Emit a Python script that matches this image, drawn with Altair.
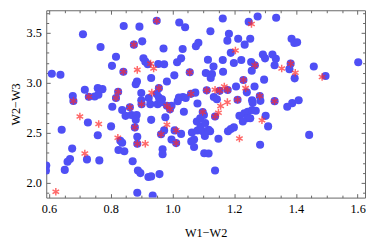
import altair as alt
import pandas as pd

# ---------------- data ----------------
blue_x = [0.842,0.710,0.767,0.817,0.804,0.841,0.609,0.637,0.716,0.758,
          0.773,0.824,0.677,0.679,0.729,0.748,0.760,0.817,0.949,1.022,
          1.041,0.893,0.875,0.902,0.971,1.033,1.076,1.084,1.028,1.015,
          0.906,0.912,0.920,0.954,0.973,1.056,1.108,1.006,0.982,0.931,
          0.885,0.881,0.899,0.956,0.949,0.956,0.923,0.966,1.021,1.034,
          1.043,1.060,1.074,1.111,0.899,1.221,1.163,1.276,1.336,1.247,
          1.123,1.183,1.178,1.213,1.252,1.234,1.189,1.115,1.163,1.199,
          1.223,1.255,1.267,1.293,1.300,1.324,1.335,1.331,1.133,1.164,
          1.257,1.128,1.124,1.297,1.230,1.241,1.266,1.206,1.153,1.179,
          1.134,1.144,1.283,1.211,1.258,1.285,1.331,1.386,1.395,1.404,
          1.383,1.379,1.396,1.458,1.496,1.602,1.388,1.409,1.372,0.805,
          0.837,0.848,0.726,0.801,0.641,0.758,0.831,0.837,0.675,0.825,
          0.844,0.723,0.763,0.668,0.660,0.651,0.591,0.590,0.862,0.900,
          0.928,0.952,0.964,0.982,0.992,0.997,1.017,1.037,1.081,1.098,
          0.867,0.884,0.881,0.878,0.931,0.977,1.079,1.090,1.102,0.973,
          0.963,1.007,1.028,1.063,1.070,1.061,0.997,1.012,1.081,1.091,
          1.098,0.886,0.886,0.968,0.968,1.070,1.103,0.888,0.896,0.922,
          0.931,0.958,0.886,0.936,0.871,1.138,1.106,1.117,1.122,1.149,
          1.180,1.189,1.199,1.260,1.217,1.233,1.244,1.258,1.270,1.242,
          1.228,1.252,1.302,1.310,1.284,1.117,1.138,1.443,1.105]
blue_y = [3.569,3.486,3.359,3.261,3.170,3.111,3.091,3.081,2.931,2.947,
          2.937,2.910,2.869,2.819,2.861,2.863,2.882,2.849,3.621,3.604,
          3.555,3.562,3.382,3.415,3.343,3.339,3.366,3.400,3.245,3.206,
          3.245,3.212,3.186,3.189,3.186,3.106,3.098,3.075,3.013,3.049,
          3.013,2.986,2.898,2.947,2.888,2.853,2.849,2.836,2.853,2.859,
          2.849,2.890,2.902,2.925,2.826,3.765,3.643,3.663,3.650,3.611,
          3.516,3.490,3.422,3.441,3.441,3.382,3.300,3.231,3.228,3.199,
          3.228,3.209,3.176,3.284,3.245,3.284,3.241,3.176,3.163,3.111,
          3.121,3.088,3.049,3.032,3.029,2.905,2.964,2.964,2.920,2.929,
          2.859,2.836,2.869,2.831,2.826,2.820,2.817,3.441,3.398,3.405,
          3.192,3.137,3.045,3.163,3.069,3.206,2.797,2.826,2.761,2.761,
          2.728,2.670,2.604,2.565,2.532,2.476,2.422,2.402,2.343,2.329,
          2.317,2.235,2.225,2.238,2.212,2.130,2.173,2.124,2.755,2.787,
          2.787,2.787,2.807,2.771,2.735,2.771,2.817,2.712,2.794,2.709,
          2.679,2.679,2.630,2.555,2.630,2.657,2.614,2.647,2.679,2.525,
          2.486,2.525,2.490,2.503,2.434,2.415,2.434,2.398,2.523,2.565,
          2.516,2.461,2.392,2.336,2.287,2.359,2.297,2.124,2.098,2.059,
          2.065,2.088,1.902,1.873,2.216,2.663,2.598,2.532,2.516,2.441,
          2.516,2.539,2.555,2.800,2.670,2.696,2.712,2.728,2.722,2.647,
          2.614,2.647,2.670,2.565,2.382,2.294,2.124,2.480,2.469]

star_x = [0.841,0.824,0.679,0.729,0.817,0.949,0.875,1.056,0.956,1.060,
          1.111,1.221,1.256,1.267,1.230,1.153,1.179,1.283,1.211,1.331,
          1.383,0.862,0.900,0.982,0.992,1.098,0.878,0.963,1.012,1.012,
          0.886,1.138,
          0.886,0.929,0.939,0.933,1.204,1.354,1.398,1.485,1.138,1.168,
          1.237,1.178,0.700,0.761,0.823,0.716,0.622,0.982,0.912,1.156,
          1.149,1.217,1.290]
star_y = [3.111,2.910,2.819,2.861,2.849,3.621,3.382,3.106,2.947,2.890,
          2.925,3.765,3.588,3.176,3.029,2.920,2.929,2.869,2.831,2.817,
          3.192,2.755,2.787,2.771,2.735,2.709,2.555,2.486,2.525,2.398,
          2.392,2.663,
          3.130,3.192,3.143,2.902,3.324,3.143,3.101,3.059,2.931,2.964,
          2.947,2.807,2.663,2.588,2.451,2.294,1.912,2.581,2.392,2.768,
          2.702,2.444,2.627]

x_major = [0.6, 0.8, 1.0, 1.2, 1.4, 1.6]
x_minor = [0.65, 0.7, 0.75, 0.85, 0.9, 0.95, 1.05, 1.1, 1.15,
           1.25, 1.3, 1.35, 1.45, 1.5, 1.55]
y_major = [2.0, 2.5, 3.0, 3.5]
y_minor = [1.9, 2.1, 2.2, 2.3, 2.4, 2.6, 2.7, 2.8, 2.9,
           3.1, 3.2, 3.3, 3.4, 3.6, 3.7]

x_title = "W1\u2212W2"
y_title = "W2\u2212W3"

# ---------------- styling ----------------
FONT = "Liberation Serif"
FRAME = "#666666"
BLUE = "#4F4FF5"
RED = "#FF2A2A"
STAR = "M0,-1L0,1M-0.866,-0.5L0.866,0.5M-0.866,0.5L0.866,-0.5"

blue = pd.DataFrame({"x": blue_x, "y": blue_y})
stars = pd.DataFrame({"x": star_x, "y": star_y})

xs = alt.Scale(domain=[0.591, 1.624], nice=False, zero=False)
ys = alt.Scale(domain=[1.853, 3.7255], nice=False, zero=False)


def tick_axis(orient, values, size, labels=False, title=None, fmt=".1f",
              label_pad=6, title_pad=10):
    kw = dict(orient=orient, values=values, tickSize=size, offset=-size,
              domain=False, grid=False, ticks=True, tickColor=FRAME,
              tickWidth=1, labels=labels, title=title)
    if labels:
        kw.update(format=fmt, labelFont=FONT, labelFontSize=12.5,
                  labelColor="black", labelPadding=label_pad,
                  labelFlush=False, labelOverlap=False,
                  titleFont=FONT, titleFontSize=12.5,
                  titleFontWeight="normal", titleColor="black",
                  titlePadding=title_pad)
    return alt.Axis(**kw)


main = alt.Chart(blue).mark_circle(size=68, color=BLUE, opacity=1, clip=True).encode(
    x=alt.X("x:Q", scale=xs, axis=tick_axis("bottom", x_major, 4, True, x_title,
                                            label_pad=5, title_pad=12)),
    y=alt.Y("y:Q", scale=ys, axis=tick_axis("left", y_major, 4, True, y_title,
                                            label_pad=5, title_pad=4)),
)
minor = alt.Chart(blue).mark_circle(opacity=0).encode(
    x=alt.X("x:Q", scale=xs, axis=tick_axis("bottom", x_minor, 2.5)),
    y=alt.Y("y:Q", scale=ys, axis=tick_axis("left", y_minor, 2.5)),
)
top = alt.Chart(blue).mark_circle(opacity=0).encode(
    x=alt.X("x:Q", scale=xs, axis=tick_axis("top", x_major, 4)),
    y=alt.Y("y:Q", scale=ys, axis=tick_axis("right", y_major, 4)),
)
top_minor = alt.Chart(blue).mark_circle(opacity=0).encode(
    x=alt.X("x:Q", scale=xs, axis=tick_axis("top", x_minor, 2.5)),
    y=alt.Y("y:Q", scale=ys, axis=tick_axis("right", y_minor, 2.5)),
)
star_layer = alt.Chart(stars).mark_point(
    shape=STAR, size=60, color=RED, strokeWidth=1.5, opacity=0.7,
    filled=False, clip=True
).encode(
    x=alt.X("x:Q", scale=xs, axis=None),
    y=alt.Y("y:Q", scale=ys, axis=None),
)

chart = alt.layer(main, minor, top, top_minor, star_layer).resolve_axis(
    x="independent", y="independent"
).properties(
    width=325, height=191,
    padding={"left": 39, "top": 0, "right": 1, "bottom": 46},
    autosize=alt.AutoSizeParams(type="none"),
    background="white",
).configure_view(stroke=FRAME, strokeWidth=1)

chart.save("out.html", embed_options={"renderer": "svg", "actions": False})
